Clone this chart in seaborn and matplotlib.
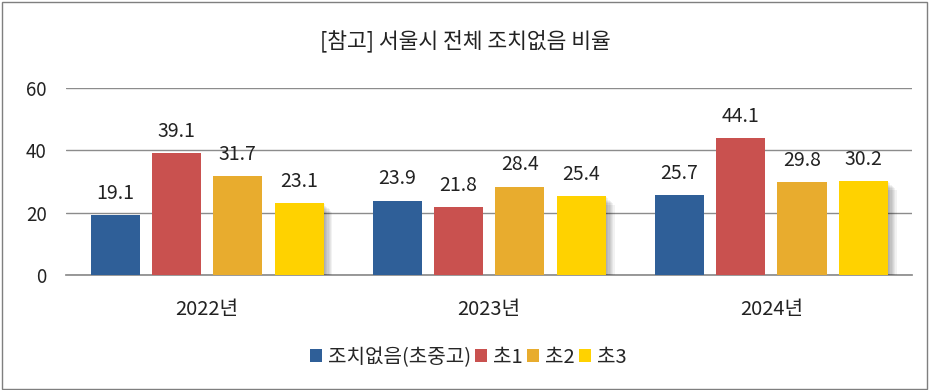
import pandas as pd
import matplotlib
matplotlib.use("Agg")
import matplotlib.pyplot as plt
import matplotlib.patheffects as pe
from matplotlib.patches import Rectangle
import seaborn as sns

years = ["2022년", "2023년", "2024년"]
groups = ["조치없음(초중고)", "초1", "초2", "초3"]
vals_none = [19.1, 23.9, 25.7]
vals_g1 = [39.1, 21.8, 44.1]
vals_g2 = [31.7, 28.4, 29.8]
vals_g3 = [23.1, 25.4, 30.2]
colors = ["#2F5F98", "#C9514F", "#E8AC2E", "#FFD200"]

rows = []
for g, vals in zip(groups, [vals_none, vals_g1, vals_g2, vals_g3]):
    for y, v in zip(years, vals):
        rows.append({"연도": y, "구분": g, "비율": v})
df = pd.DataFrame(rows)

sns.set_theme(style="white")
plt.rcParams["font.family"] = ["Noto Sans CJK KR", "DejaVu Sans"]

fig = plt.figure(figsize=(9.3, 3.9), dpi=100)
fig.patches.append(Rectangle((0.002, 0.003), 0.995, 0.993, transform=fig.transFigure,
                             fill=False, edgecolor="#7f7f7f", linewidth=1.0))
ax = fig.add_axes([0.071, 0.295, 0.91, 0.479])

sns.barplot(data=df, x="연도", y="비율", hue="구분", palette=colors,
            width=0.87, gap=0.2, saturation=1, linewidth=0, edgecolor="none",
            ax=ax, legend=True, zorder=3)

# soft shadow on the yellow bars
for bar in ax.containers[3]:
    bar.set_path_effects([pe.SimplePatchShadow(offset=(o * 0.9, -o * 0.9), shadow_rgbFace="black", alpha=0.05)
                          for o in range(1, 8)] + [pe.Normal()])

for cont in ax.containers:
    ax.bar_label(cont, fmt="%.1f", padding=8, fontsize=14, color="#222222")

ax.set_ylim(0, 60)
ax.set_yticks([0, 20, 40, 60])
ax.yaxis.grid(True, color="#8c8c8c", linewidth=1.0, zorder=0)
ax.set_axisbelow(True)
ax.set_xlabel("")
ax.set_ylabel("")
ax.set_xlim(-0.5, 2.5)
for s in ["top", "right", "left"]:
    ax.spines[s].set_visible(False)
ax.spines["bottom"].set_color("#8c8c8c")
ax.tick_params(axis="y", length=0, labelsize=13.5, pad=14, labelcolor="#222222")
ax.tick_params(axis="x", which="major", length=0, labelsize=14.5, pad=17, labelcolor="#222222")
ax.set_xticks([-0.5, 0.5, 1.5, 2.5], minor=True)
ax.tick_params(axis="x", which="minor", length=5, color="#8c8c8c", width=1)

fig.text(0.5, 0.895, "[참고] 서울시 전체 조치없음 비율", ha="center", va="center",
         fontsize=15.5, color="#222222")

ax.legend(loc="center", bbox_to_anchor=(0.475, -0.44), ncol=4, frameon=False,
          fontsize=14.5, handlelength=0.6, handleheight=0.6, handletextpad=0.3,
          columnspacing=0.2, borderaxespad=0)

fig.savefig("out.png", dpi=100)
